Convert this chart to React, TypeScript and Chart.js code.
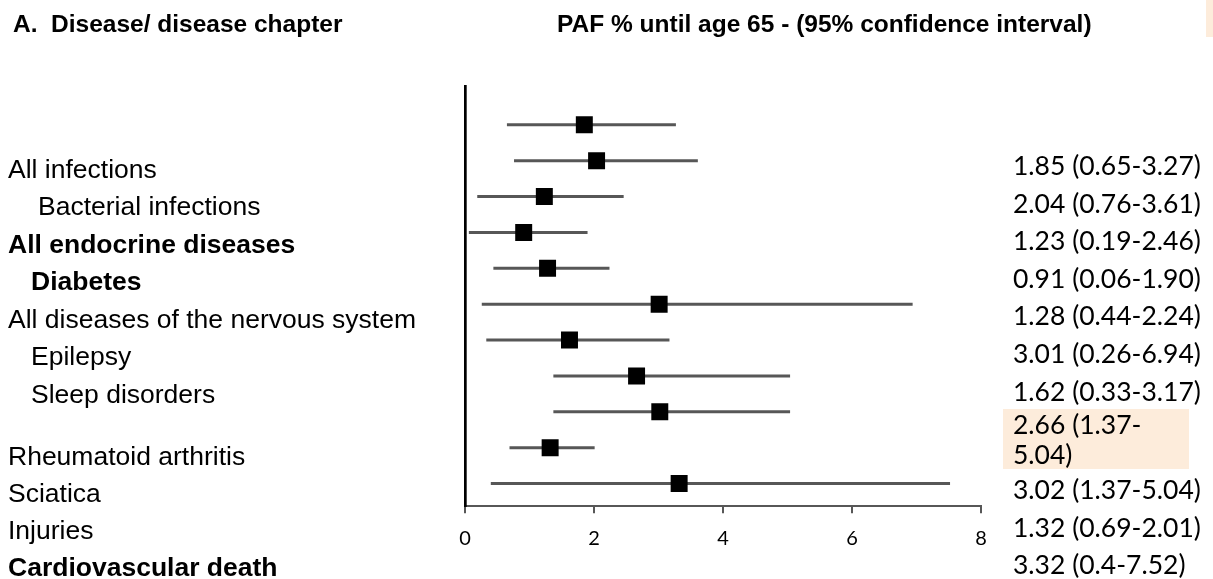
import React, { useEffect, useRef } from "react";
import { Chart, registerables } from "chart.js";

Chart.register(...registerables);

// ---------- data ----------
const diseaseLabels = [
  "All infections",
  "Bacterial infections",
  "All endocrine diseases",
  "Diabetes",
  "All diseases of the nervous system",
  "Epilepsy",
  "Sleep disorders",
  "Rheumatoid arthritis",
  "Sciatica",
  "Injuries",
  "Cardiovascular death",
];
const pafEstimates = [1.85, 2.04, 1.23, 0.91, 1.28, 3.01, 1.62, 2.66, 3.02, 1.32, 3.32];
const ciLower = [0.65, 0.76, 0.19, 0.06, 0.44, 0.26, 0.33, 1.37, 1.37, 0.69, 0.4];
const ciUpper = [3.27, 3.61, 2.46, 1.9, 2.24, 6.94, 3.17, 5.04, 5.04, 2.01, 7.52];
const ciLabels = [
  "1.85 (0.65-3.27)",
  "2.04 (0.76-3.61)",
  "1.23 (0.19-2.46)",
  "0.91 (0.06-1.90)",
  "1.28 (0.44-2.24)",
  "3.01 (0.26-6.94)",
  "1.62 (0.33-3.17)",
  "2.66 (1.37-\n5.04)",
  "3.02 (1.37-5.04)",
  "1.32 (0.69-2.01)",
  "3.32 (0.4-7.52)",
];
const xTicks = [0, 2, 4, 6, 8];
const headerPrefix = "A.";
const headerLeft = "Disease/ disease chapter";
const headerRight = "PAF % until age 65 - (95% confidence interval)";

// ---------- label styling ----------
const boldRows = [2, 3, 10];
const indentPx: Record<number, number> = { 1: 30, 3: 23, 5: 23, 6: 23 };
const highlightRow = 7;

const ARIAL = '"Liberation Sans", Arial, sans-serif';
const CALIBRI = 'Lato, "Open Sans", sans-serif';

const textPlugin = {
  id: "forestText",
  afterDraw(chart: any) {
    const ctx = chart.ctx as CanvasRenderingContext2D;
    ctx.save();
    ctx.textBaseline = "alphabetic";
    ctx.textAlign = "left";

    // small tinted sliver at the top right edge
    ctx.fillStyle = "#fdecdb";
    ctx.fillRect(1206, 0, 7, 37);

    // headers
    ctx.fillStyle = "#000";
    ctx.font = `bold 24.5px ${ARIAL}`;
    ctx.fillText(headerPrefix, 13, 32);
    ctx.fillText(headerLeft, 51, 32);
    ctx.fillText(headerRight, 557, 32);

    // left labels
    diseaseLabels.forEach((lab, i) => {
      const bold = boldRows.includes(i);
      ctx.font = `${bold ? "bold " : ""}26.5px ${ARIAL}`;
      const y = i < 7 ? 177.5 + 37.5 * i : 464.5 + 37.3 * (i - 7);
      ctx.fillText(lab, 8 + (indentPx[i] || 0), y);
    });

    // right labels
    ctx.font = `26.5px ${CALIBRI}`;
    ciLabels.forEach((lab, i) => {
      if (i === highlightRow) {
        ctx.fillStyle = "#fdecdb";
        ctx.fillRect(1003, 409, 186, 60);
        ctx.fillStyle = "#000";
        const parts = lab.split("\n");
        ctx.fillText(parts[0], 1013, 434);
        ctx.fillText(parts[1], 1013, 464);
        return;
      }
      const y = i < 7 ? 175 + 37.6 * i : 499 + 37.5 * (i - 8);
      ctx.fillText(lab, 1013, y);
    });
    ctx.restore();
  },
};

export default function App() {
  const canvasRef = useRef<HTMLCanvasElement | null>(null);

  useEffect(() => {
    document.body.style.margin = "0";
    const canvas = canvasRef.current;
    if (!canvas) return;

    const rows = pafEstimates.map((_, i) => i + 1);

    const ciDatasets = rows.map((r, i) => ({
      type: "line" as const,
      label: "CI " + diseaseLabels[i],
      data: [
        { x: ciLower[i], y: r },
        { x: ciUpper[i], y: r },
      ],
      showLine: true,
      borderColor: "#575757",
      borderWidth: 3,
      borderCapStyle: "butt" as const,
      pointRadius: 0,
      pointHoverRadius: 0,
      order: 1,
    }));

    const chart = new Chart(canvas, {
      type: "scatter",
      data: {
        datasets: [
          {
            label: "PAF",
            data: pafEstimates.map((v, i) => ({ x: v, y: rows[i] })),
            pointStyle: "rect",
            pointRadius: 12,
            pointHoverRadius: 12,
            backgroundColor: "#000",
            borderColor: "#000",
            borderWidth: 0,
            order: 0,
          },
          ...ciDatasets,
        ] as any,
      },
      options: {
        responsive: false,
        animation: false,
        devicePixelRatio: 1,
        layout: { padding: { left: 465, right: 232, top: 86, bottom: 15.3 } },
        plugins: {
          legend: { display: false },
          tooltip: { enabled: false },
          title: { display: false },
        },
        scales: {
          x: {
            type: "linear",
            min: 0,
            max: 8,
            afterBuildTicks: (scale: any) => {
              scale.ticks = xTicks.map((v) => ({ value: v }));
            },
            grid: {
              display: true,
              drawOnChartArea: false,
              drawTicks: true,
              tickLength: 7,
              color: "#575757",
              lineWidth: 2,
            },
            border: { display: true, color: "#575757", width: 2 },
            ticks: {
              color: "#000",
              padding: 13.2,
              font: { family: CALIBRI, size: 20 },
            },
          },
          y: {
            type: "linear",
            reverse: true,
            min: -0.0811,
            max: 11.635,
            grid: { display: false, drawTicks: false },
            border: { display: true, color: "#000", width: 2.7 },
            ticks: { display: false },
          },
        },
      },
      plugins: [textPlugin],
    });

    return () => chart.destroy();
  }, []);

  return (
    <div
      style={{
        position: "absolute",
        left: 0,
        top: 0,
        width: 1213,
        height: 579,
        background: "#fff",
      }}
    >
      <canvas ref={canvasRef} width={1213} height={579} style={{ display: "block" }} />
    </div>
  );
}
